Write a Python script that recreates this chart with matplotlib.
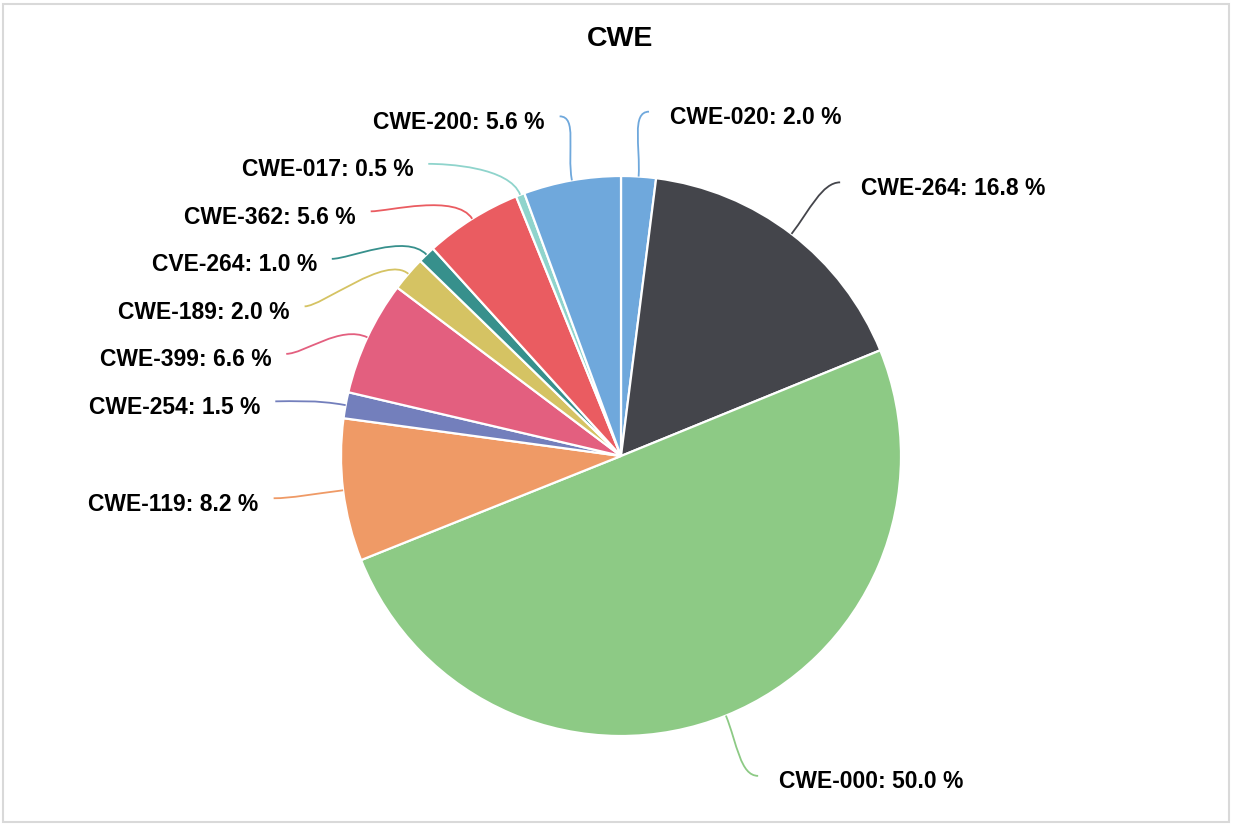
import numpy as np
import matplotlib
matplotlib.use("Agg")
import matplotlib.pyplot as plt
from matplotlib.path import Path
from matplotlib.patches import PathPatch, Rectangle

plt.rcParams['font.family'] = ['Liberation Sans', 'DejaVu Sans']

title = "CWE"
categories = ["CWE-020", "CWE-264", "CWE-000", "CWE-119", "CWE-254", "CWE-399",
              "CWE-189", "CVE-264", "CWE-362", "CWE-017", "CWE-200"]
percents = [2.0, 16.8, 50.0, 8.2, 1.5, 6.6, 2.0, 1.0, 5.6, 0.5, 5.6]
colors = ["#6fa8dc", "#44454b", "#8dca85", "#ef9a66", "#737fbc", "#e35f7f",
          "#d5c363", "#37908c", "#ea5c61", "#8fd4cc", "#6fa8dc"]

W, H = 1233, 825
fig = plt.figure(figsize=(W / 100, H / 100), dpi=100)
ax = fig.add_axes([0, 0, 1, 1])

cx, cy, r = 621, H - 456, 280
wedges, _ = ax.pie(percents, colors=colors, startangle=90, counterclock=False,
                   center=(cx, cy), radius=r, frame=False,
                   wedgeprops=dict(edgecolor="white", linewidth=1.6))
ax.set_xlim(0, W)
ax.set_ylim(0, H)
ax.set_aspect('equal')
ax.axis('off')

total = sum(percents)
R = 350      # label circle radius
Ry = 345     # radius used for natural label heights
spacing = 47.5
cum = np.cumsum([0] + percents[:-1])
mids = [(c + p / 2) / total * 2 * np.pi for c, p in zip(cum, percents)]

info = []
for i, th in enumerate(mids):
    side = 1 if np.sin(th) >= 0 else -1
    y0 = cy + Ry * np.cos(th)
    info.append([i, th, side, y0, False])

for side in (1, -1):
    items = sorted([it for it in info if it[2] == side], key=lambda t: -t[3])
    prev = None
    for it in items:
        if prev is not None and it[3] > prev - spacing:
            it[3] = prev - spacing
            it[4] = True
        prev = it[3]

for i, th, side, ly, moved in info:
    if moved:
        dy = ly - cy
        lx = cx + side * np.sqrt(max(R ** 2 - dy ** 2, 0))
    else:
        lx = cx + R * np.sin(th) + (6 if side > 0 else 0)
    ex, ey = cx + r * np.sin(th), cy + r * np.cos(th)
    c1 = (cx + (r + 30) * np.sin(th), cy + (r + 30) * np.cos(th))
    c2 = (lx - side * 18, ly)
    path = Path([(ex, ey), c1, c2, (lx, ly)],
                [Path.MOVETO, Path.CURVE4, Path.CURVE4, Path.CURVE4])
    ax.add_patch(PathPatch(path, facecolor='none', edgecolor=colors[i], lw=1.3))
    label = f"{categories[i]}: {percents[i]:.1f} %"
    tx = lx + side * (21 if side > 0 else 15)
    ax.text(tx, ly - 6, label, ha='left' if side > 0 else 'right', va='center',
            fontsize=16.5, fontweight='bold', color='black')

ax.text(W / 2 + 4, H - 39, title, ha='center', va='center', fontsize=20.5,
        fontweight='bold', color='black')

fig.add_artist(Rectangle((3 / W, 3 / H), (W - 7) / W, (H - 7) / H,
                         transform=fig.transFigure, fill=False,
                         edgecolor='#d9d9d9', lw=1.5))

fig.savefig("out.png", dpi=100)
